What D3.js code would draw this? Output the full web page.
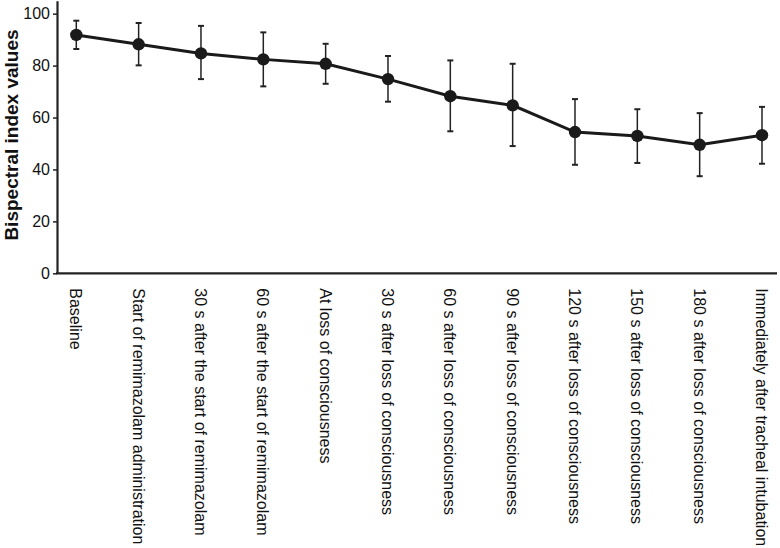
<!DOCTYPE html>
<html lang="en">
<head>
    <meta charset="UTF-8">
    <title>Bispectral index values</title>
    <script src="https://cdn.jsdelivr.net/npm/d3@7"></script>
    <style>
        body { margin: 0; background: #fff; }
        * { font-family: 'Liberation Sans', Arial, sans-serif; }
    </style>
</head>
<body>
<script>
    const categories = [
        "Baseline",
        "Start of remimazolam administration",
        "30 s after the start of remimazolam",
        "60 s after the start of remimazolam",
        "At loss of consciousness",
        "30 s after loss of consciousness",
        "60 s after loss of consciousness",
        "90 s after loss of consciousness",
        "120 s after loss of consciousness",
        "150 s after loss of consciousness",
        "180 s after loss of consciousness",
        "Immediately after tracheal intubation"
    ];
    const means = [91.8, 88.2, 84.7, 82.4, 80.7, 74.8, 68.2, 64.7, 54.4, 52.9, 49.5, 53.2];
    const upper = [97.3, 96.4, 95.3, 92.8, 88.4, 83.7, 82.0, 80.7, 67.1, 63.2, 61.7, 64.1];
    const lower = [86.4, 80.1, 74.8, 72.0, 73.0, 66.1, 54.7, 49.0, 41.8, 42.5, 37.4, 42.2];
    const yTicks = [0, 20, 40, 60, 80, 100];

    const W = 780, H = 548;
    const axisX = 57, axisY = 273.3;

    const svg = d3.select("body").append("svg").attr("width", W).attr("height", H);

    const x = d3.scalePoint().domain(categories).range([76.3, 762]);
    const y = d3.scaleLinear().domain([0, 105]).range([axisY, 0.7]);

    const data = categories.map((c, i) => ({c, m: means[i], lo: lower[i], hi: upper[i]}));

    // y axis
    const yAxis = svg.append("g")
        .attr("transform", `translate(${axisX},0)`)
        .call(d3.axisLeft(y).tickValues(yTicks).tickSize(4).tickPadding(3).tickSizeOuter(0));
    yAxis.select(".domain").attr("stroke", "#222").attr("stroke-width", 2.2);
    yAxis.selectAll(".tick line").attr("stroke", "#222").attr("stroke-width", 1.5);
    yAxis.selectAll(".tick text").attr("fill", "#111").style("font-size", "16px");

    // x axis line
    svg.append("line")
        .attr("x1", axisX - 1).attr("x2", 777)
        .attr("y1", axisY).attr("y2", axisY)
        .attr("stroke", "#222").attr("stroke-width", 2.2);

    // x labels, rotated
    svg.append("g").selectAll("text")
        .data(categories)
        .join("text")
        .attr("transform", d => `translate(${x(d) - 6},${axisY + 15}) rotate(90)`)
        .attr("text-anchor", "start")
        .style("font-size", "16px")
        .attr("fill", "#111")
        .text(d => d);

    // y label
    svg.append("text")
        .attr("transform", `translate(18,135) rotate(-90)`)
        .attr("text-anchor", "middle")
        .style("font-size", "19px")
        .style("font-weight", "bold")
        .attr("fill", "#111")
        .text("Bispectral index values");

    // error bars
    const eb = svg.append("g").attr("stroke", "#222").attr("stroke-width", 1.5);
    eb.selectAll(".v").data(data).join("line")
        .attr("x1", d => x(d.c)).attr("x2", d => x(d.c))
        .attr("y1", d => y(d.lo)).attr("y2", d => y(d.hi));
    eb.selectAll(".t").data(data).join("line")
        .attr("x1", d => x(d.c) - 3).attr("x2", d => x(d.c) + 3)
        .attr("y1", d => y(d.hi)).attr("y2", d => y(d.hi)).attr("stroke-width", 2);
    eb.selectAll(".b").data(data).join("line")
        .attr("x1", d => x(d.c) - 3).attr("x2", d => x(d.c) + 3)
        .attr("y1", d => y(d.lo)).attr("y2", d => y(d.lo)).attr("stroke-width", 2);

    // mean line
    svg.append("path")
        .datum(data)
        .attr("fill", "none")
        .attr("stroke", "#1a1a1a")
        .attr("stroke-width", 3)
        .attr("d", d3.line().x(d => x(d.c)).y(d => y(d.m)));

    svg.append("g").selectAll("circle")
        .data(data)
        .join("circle")
        .attr("cx", d => x(d.c))
        .attr("cy", d => y(d.m))
        .attr("r", 6.2)
        .attr("fill", "#1a1a1a");
</script>
</body>
</html>
